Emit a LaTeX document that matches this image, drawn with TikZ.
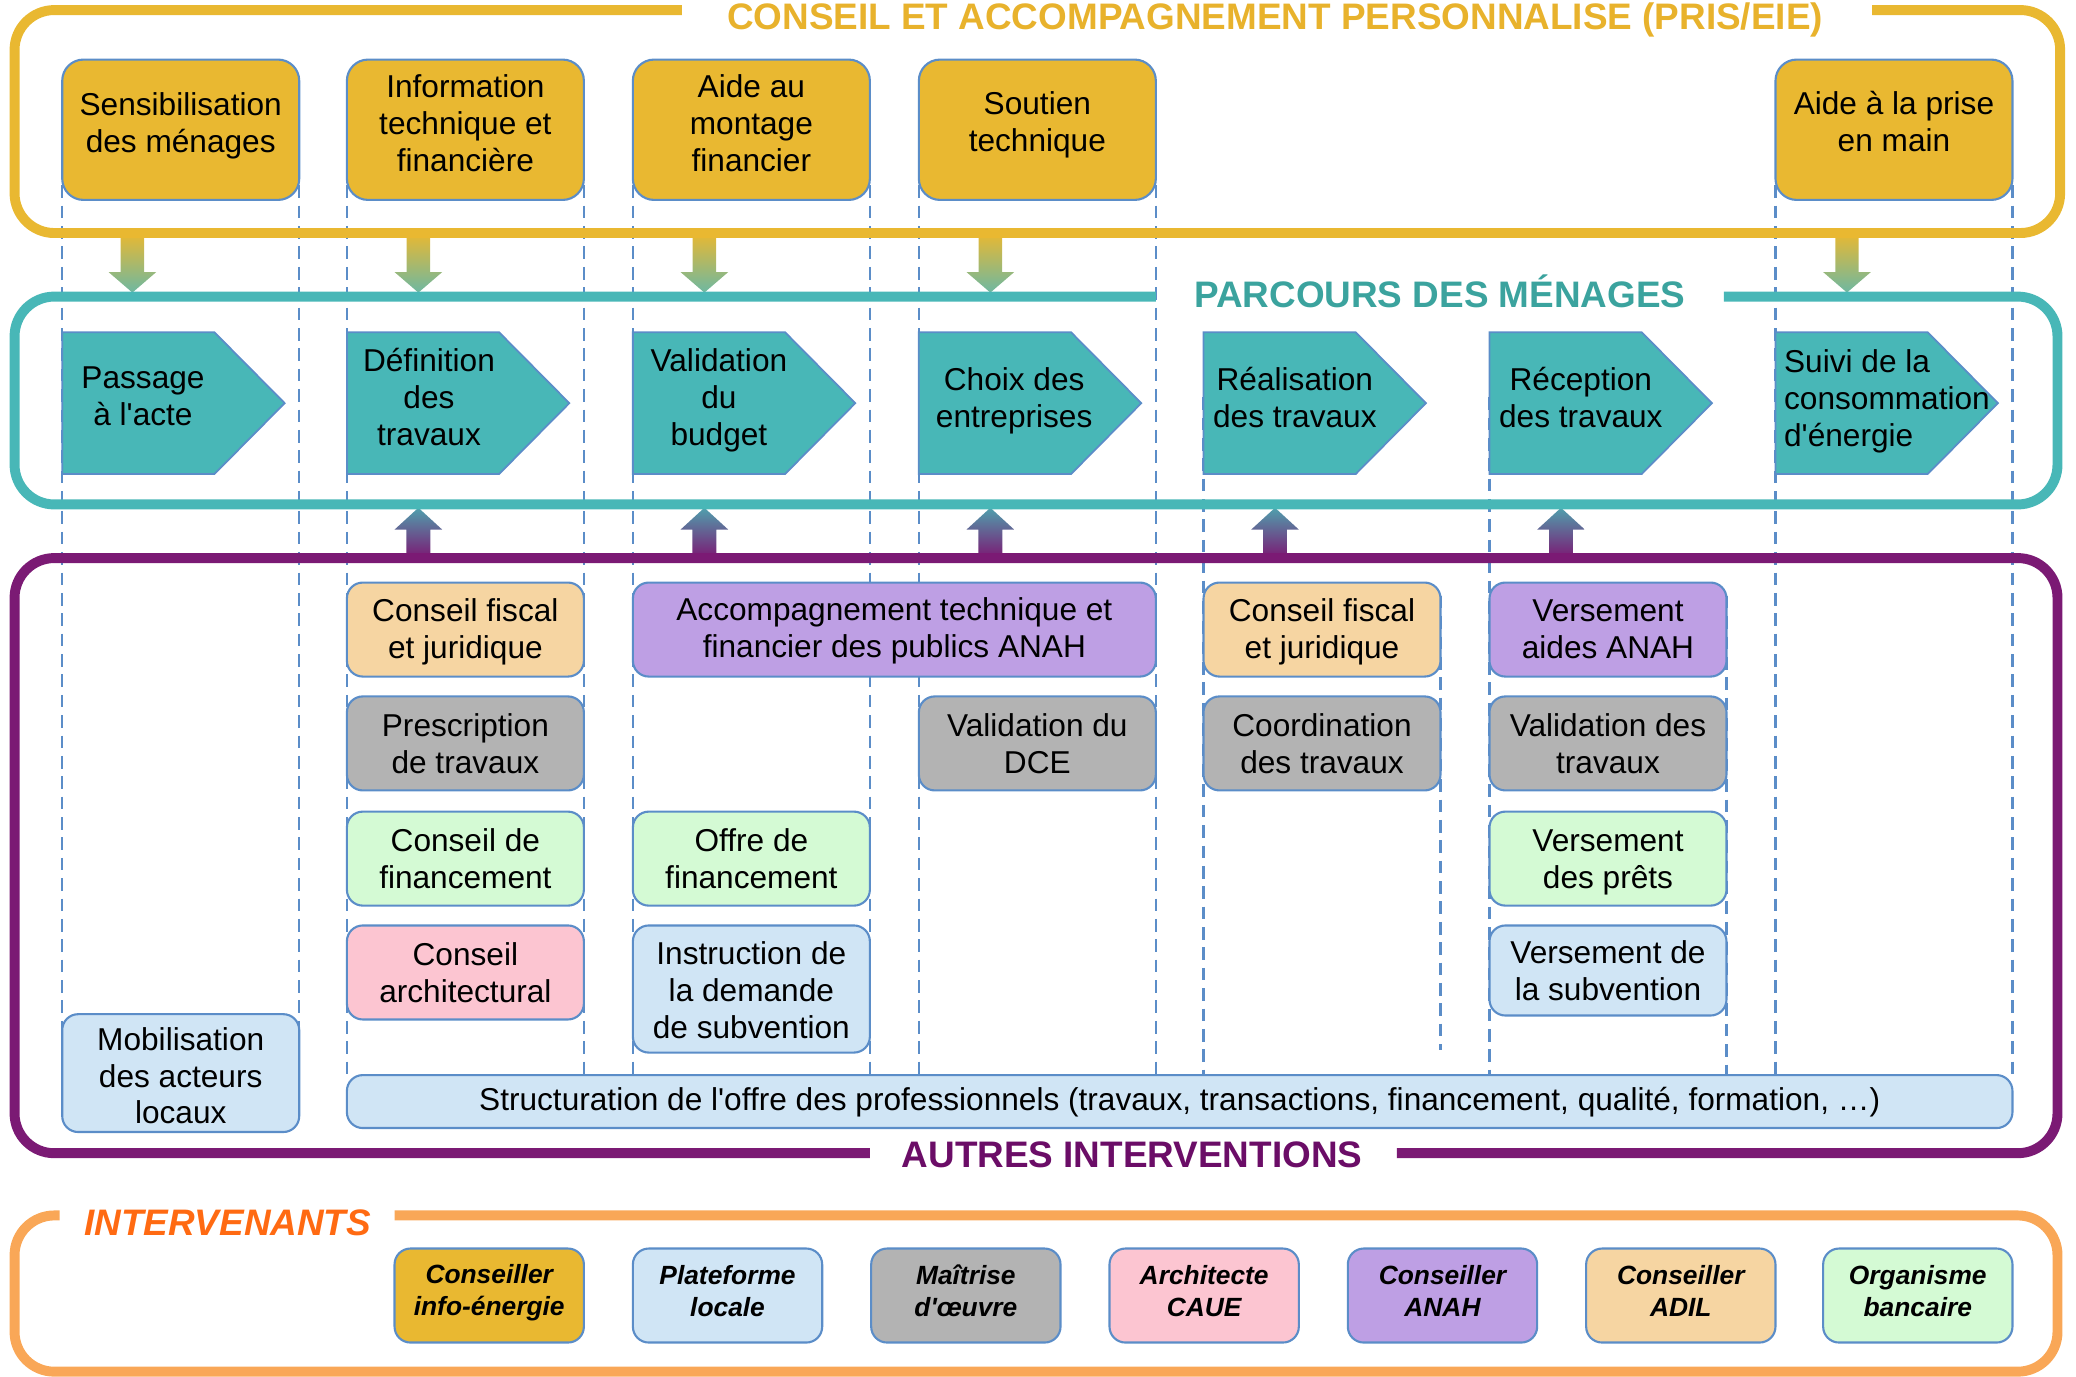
\documentclass[tikz,border=0pt]{standalone}
\usepackage{fontspec}
\setmainfont{Liberation Sans}
\newfontfamily\lsans{Liberation Sans}

\definecolor{gold}{HTML}{E9B831}
\definecolor{goldtxt}{HTML}{E8B22C}
\definecolor{tealc}{HTML}{48B7B7}
\definecolor{tealtxt}{HTML}{3BA39E}
\definecolor{greenarr}{HTML}{6DB8A2}
\definecolor{purp}{HTML}{7B1A74}
\definecolor{purptxt}{HTML}{6B0D67}
\definecolor{orangec}{HTML}{F9A757}
\definecolor{orangetxt}{HTML}{FF6A12}
\definecolor{bordc}{HTML}{5B8DC8}
\definecolor{peach}{HTML}{F6D5A2}
\definecolor{lav}{HTML}{BE9FE4}
\definecolor{greyc}{HTML}{B3B3B3}
\definecolor{lgreen}{HTML}{D4FAD4}
\definecolor{pinkc}{HTML}{FCC5D1}
\definecolor{lblue}{HTML}{D0E5F5}

\newlength\px
\setlength\px{0.01324cm}

\newcommand\fbody{\lsans\fontsize{9pt}{10.5pt}\selectfont}
\newcommand\ftitle{\lsans\bfseries\fontsize{10.5pt}{12pt}\selectfont}
\newcommand\fsmall{\lsans\bfseries\itshape\fontsize{7.5pt}{9pt}\selectfont}

\tikzset{
  frame/.style={line width=7.5\px, rounded corners=30\px},
  guide/.style={draw=bordc, line width=0.6pt, dash pattern=on 3.6pt off 2.2pt},
  chev/.style={fill=tealc, draw=bordc, line width=0.5pt},
  txt/.style={font=\fbody, align=center, inner sep=0pt},
  box/.style={draw=bordc, line width=0.6pt, rounded corners=12\px, inner sep=0pt, outer sep=0pt},
  tbox/.style={draw=bordc, line width=0.6pt, fill=gold, rounded corners=16\px,
    minimum width=179\px, minimum height=106\px, inner sep=0pt},
  ibox/.style={draw=bordc, line width=0.6pt, rounded corners=12\px,
    minimum width=143\px, minimum height=71\px, inner sep=0pt},
  ititle/.style={font=\ftitle, inner sep=0pt},
}

% box spanning (x1,y1)-(x2,y2); optional vertical offset of its text
\newcommand\panel[8][0]{%
  \node[box, fill=#3, minimum width={(#6-#4)*\px}, minimum height={(#7-#5)*\px}]
    (#2) at ({(#4+#6)/2},{(#5+#7)/2}) {};
  \node[txt] (#2-t) at ({(#4+#6)/2},{(#5+#7)/2+#1}) {#8};}
% upper column box: left x, text centre y, text
\newcommand\topbox[4]{%
  \node[tbox] (#1) at (#2+89.5,98) {};
  \node[txt] (#1-t) at (#2+89.5,#3) {#4};}
% actor box: left x, colour, text centre y, text
\newcommand\actor[5]{%
  \node[ibox, fill=#3] (#1) at (#2+71.5,978.5) {};
  \node[font=\fsmall, align=center, inner sep=0pt] (#1-t) at (#2+71.5,#4) {#5};}

\begin{document}
\begin{tikzpicture}[x=0.01324cm, y=-0.01324cm]
\useasboundingbox (0,0) rectangle (1568,1040);

% column guides
\foreach \gx/\ya/\yb in {47/140/780, 226/140/780, 262/140/812, 441/140/812,
    478/140/812, 657/140/812, 694/140/812, 873/140/812, 909/300/812,
    1088/450/793, 1125/300/812, 1304/450/812, 1341/140/812, 1520/140/812}
  \draw[guide] (\gx,\ya) -- (\gx,\yb);

% arrows from the advice band down to the household path
\foreach \ax in {100,316,532,748,1395}
  \shade[top color=gold, bottom color=greenarr]
    (\ax-8.8,176) -- (\ax+8.8,176) -- (\ax+8.8,205.5) -- (\ax+18,205.5)
    -- (\ax,221) -- (\ax-18,205.5) -- (\ax-8.8,205.5) -- cycle;

% arrows from the other interventions up to the household path
\foreach \ax in {316,532,748,963,1179}
  \shade[top color=tealc!85!purp, bottom color=purp]
    (\ax,383.5) -- (\ax+18,400) -- (\ax+9,400) -- (\ax+9,421)
    -- (\ax-9,421) -- (\ax-9,400) -- (\ax-18,400) -- cycle;

% band frames
\draw[frame, draw=gold] (1414,7.6) -- (1556,7.6) -- (1556,176) -- (11,176) -- (11,7.6) -- (515,7.6);
\draw[frame, draw=tealc] (1302,224) -- (1554,224) -- (1554,381) -- (11,381) -- (11,224) -- (873,224);
\draw[frame, draw=purp] (1055,871) -- (1554,871) -- (1554,421.5) -- (11,421.5) -- (11,871) -- (657,871);
\draw[frame, draw=orangec] (298,918) -- (1554,918) -- (1554,1036) -- (11,1036) -- (11,918) -- (45,918);

% band titles
\node[ititle, anchor=base, text=goldtxt] (title-conseil) at (963,22)
  {CONSEIL ET ACCOMPAGNEMENT PERSONNALISE (PRIS/EIE)};
\node[ititle, anchor=base, text=tealtxt] (title-parcours) at (1087.5,232)
  {PARCOURS DES MÉNAGES};
\node[ititle, anchor=base, text=purptxt] (title-autres) at (855,882)
  {AUTRES INTERVENTIONS};
\node[ititle, anchor=base west, text=orangetxt, font=\ftitle\itshape] (title-interv) at (63,933.5)
  {INTERVENANTS};

% advice boxes
\topbox{t1}{47}{95}{Sensibilisation\\des ménages}
\topbox{t2}{262}{93}{Information\\technique et\\financière}
\topbox{t3}{478}{93}{Aide au\\montage\\financier}
\topbox{t4}{694}{94.5}{Soutien\\technique}
\topbox{t7}{1341}{91.5}{Aide à la prise\\en main}

% household path steps
\foreach \cx in {47,262,478,694,909,1125,1341}
  \path[chev] (\cx,251) -- (\cx+115,251) -- (\cx+168,304.5) -- (\cx+115,358) -- (\cx,358) -- cycle;
\node[txt] (c1) at (108,299.5) {Passage\\à l'acte};
\node[txt] (c2) at (324,300) {Définition\\des\\travaux};
\node[txt] (c3) at (543,302.5) {Validation\\du\\budget};
\node[txt] (c4) at (766,302.5) {Choix des\\entreprises};
\node[txt] (c5) at (978,300.5) {Réalisation\\des travaux};
\node[txt] (c6) at (1194,300.5) {Réception\\des travaux};
\node[txt, align=left, anchor=west] (c7) at (1347,303) {Suivi de la\\consommation\\d'énergie};

% other interventions
\panel[1.5]{b2a}{peach}{262}{440}{441}{511}{Conseil fiscal\\et juridique}
\panel[1]{b34a}{lav}{478}{440}{873}{511}{Accompagnement technique et\\financier des publics ANAH}
\panel[1.5]{b5a}{peach}{909}{440}{1088}{511}{Conseil fiscal\\et juridique}
\panel{b6a}{lav}{1125}{440}{1304}{511}{Versement\\aides ANAH}
\panel{b2b}{greyc}{262}{526}{441}{597}{Prescription\\de travaux}
\panel{b4b}{greyc}{694}{526}{873}{597}{Validation du\\DCE}
\panel{b5b}{greyc}{909}{526}{1088}{597}{Coordination\\des travaux}
\panel{b6b}{greyc}{1125}{526}{1304}{597}{Validation des\\travaux}
\panel{b2c}{lgreen}{262}{613}{441}{684}{Conseil de\\financement}
\panel{b3c}{lgreen}{478}{613}{657}{684}{Offre de\\financement}
\panel[3]{b6c}{lgreen}{1125}{613}{1304}{684}{Versement\\des prêts}
\panel{b2d}{pinkc}{262}{699}{441}{770}{Conseil\\architectural}
\panel[1]{b3d}{lblue}{478}{699}{657}{795}{Instruction de\\la demande\\de subvention}
\panel{b6d}{lblue}{1125}{699}{1304}{767}{Versement de\\la subvention}
\panel[2]{b1e}{lblue}{47}{766}{226}{855}{Mobilisation\\des acteurs\\locaux}
\panel[0.5]{b0f}{lblue}{262}{812}{1520}{852}{Structuration de l'offre des professionnels (travaux, transactions, financement, qualité, formation, …)}

% actors
\actor{i1}{298}{gold}{976.5}{Conseiller\\info-énergie}
\actor{i2}{478}{lblue}{975}{Plateforme\\locale}
\actor{i3}{658}{greyc}{975}{Maîtrise\\d'œuvre}
\actor{i4}{838}{pinkc}{975}{Architecte\\CAUE}
\actor{i5}{1018}{lav}{975}{Conseiller\\ANAH}
\actor{i6}{1198}{peach}{975}{Conseiller\\ADIL}
\actor{i7}{1377}{lgreen}{975}{Organisme\\bancaire}
\end{tikzpicture}
\end{document}
